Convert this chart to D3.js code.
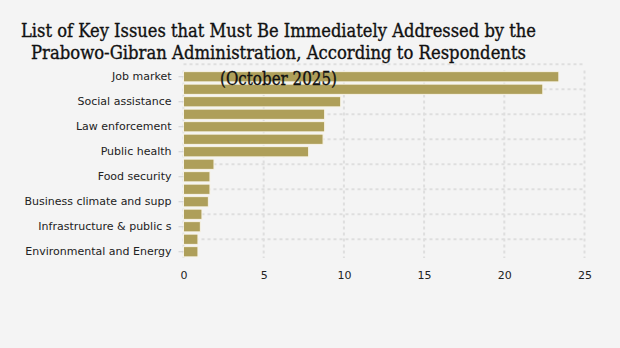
<!DOCTYPE html>
<html>
<head>
<meta charset="utf-8">
<script src="https://cdn.jsdelivr.net/npm/d3@7"></script>
<style>
  html, body { margin: 0; padding: 0; background: #f4f4f4; }
  svg { display: block; }
</style>
</head>
<body>
<svg id="chart" width="620" height="348"></svg>
<script>
// categories, top to bottom (only every other one gets a tick label)
const issues = [
    'Job market', 'Poverty alleviation', 'Social assistance', 'Price stability',
    'Law enforcement', 'Corruption eradication', 'Public health', 'Education quality',
    'Food security', 'Agriculture', 'Business climate and supp', 'Housing',
    'Infrastructure & public s', 'Regional development', 'Environmental and Energy'
];
// percent of respondents
const shares = [23.4, 22.4, 9.8, 8.8, 8.8, 8.7, 7.8, 1.9, 1.65, 1.65, 1.55, 1.15, 1.05, 0.9, 0.9];
const xTicks = [0, 5, 10, 15, 20, 25];
const titleLines = [
    'List of Key Issues that Must Be Immediately Addressed by the',
    'Prabowo-Gibran Administration, According to Respondents',
    '(October 2025)'
];
const titleWidths = [515, 495, 117];
const titleBase = [36.7, 59.3, 84.7];

const data = issues.map((d, i) => ({ issue: d, value: shares[i] }));

const svg = d3.select('#chart');
const margin = { top: 70.5, right: 35, bottom: 90, left: 183.5 };
const width = 620 - margin.left - margin.right;
const height = 348 - margin.top - margin.bottom;

const g = svg.append('g')
    .attr('transform', `translate(${margin.left},${margin.top})`);

const x = d3.scaleLinear().domain([0, 25]).range([0, 401]);
const y = d3.scaleBand().domain(issues).range([0, height]).paddingInner(0.18).paddingOuter(0.09);

// grid
const gridColor = '#dedede';
g.append('g').selectAll('line.v')
    .data(xTicks)
    .join('line')
    .attr('x1', d => x(d)).attr('x2', d => x(d))
    .attr('y1', 0).attr('y2', height)
    .attr('stroke', gridColor)
    .attr('stroke-width', 2)
    .attr('stroke-dasharray', '3,3');

const step = y.step();
const hLines = issues.filter((d, i) => i % 2 === 0);
g.append('g').selectAll('line.h')
    .data(hLines)
    .join('line')
    .attr('x1', 0).attr('x2', x(25))
    .attr('y1', d => y(d) + y.bandwidth() / 2 - step).attr('y2', d => y(d) + y.bandwidth() / 2 - step)
    .attr('stroke', gridColor)
    .attr('stroke-width', 2)
    .attr('stroke-dasharray', '3,3');

// bars
g.append('g').selectAll('rect')
    .data(data)
    .join('rect')
    .attr('x', x(0))
    .attr('y', d => y(d.issue))
    .attr('width', d => x(d.value))
    .attr('height', y.bandwidth())
    .attr('fill', '#ae9f5a')
    .attr('stroke', '#f7f3e6')
    .attr('stroke-width', 1);

// y axis
const yAxis = g.append('g')
    .call(d3.axisLeft(y).tickValues(hLines).tickSize(5).tickPadding(7));
yAxis.select('.domain').remove();
yAxis.selectAll('.tick line').attr('stroke', '#d0d0d0');
yAxis.selectAll('text')
    .attr('fill', '#222')
    .style('font', '11px "DejaVu Sans", sans-serif');

// x axis
const xAxis = g.append('g')
    .attr('transform', `translate(0,${height})`)
    .call(d3.axisBottom(x).tickValues(xTicks).tickSize(0).tickPadding(13));
xAxis.select('.domain').remove();
xAxis.selectAll('text')
    .attr('fill', '#222')
    .style('font', '11px "DejaVu Sans", sans-serif');

// title (drawn last, it overlaps the first bar)
svg.append('g').selectAll('text')
    .data(titleLines)
    .join('text')
    .attr('x', 278.5)
    .attr('y', (d, i) => titleBase[i])
    .attr('text-anchor', 'middle')
    .attr('fill', '#111')
    .attr('stroke', '#111')
    .attr('stroke-width', 0.35)
    .attr('textLength', (d, i) => titleWidths[i])
    .attr('lengthAdjust', 'spacingAndGlyphs')
    .style('font-family', '"DejaVu Serif", serif')
    .style('font-size', '18px')
    .text(d => d);
</script>
</body>
</html>
